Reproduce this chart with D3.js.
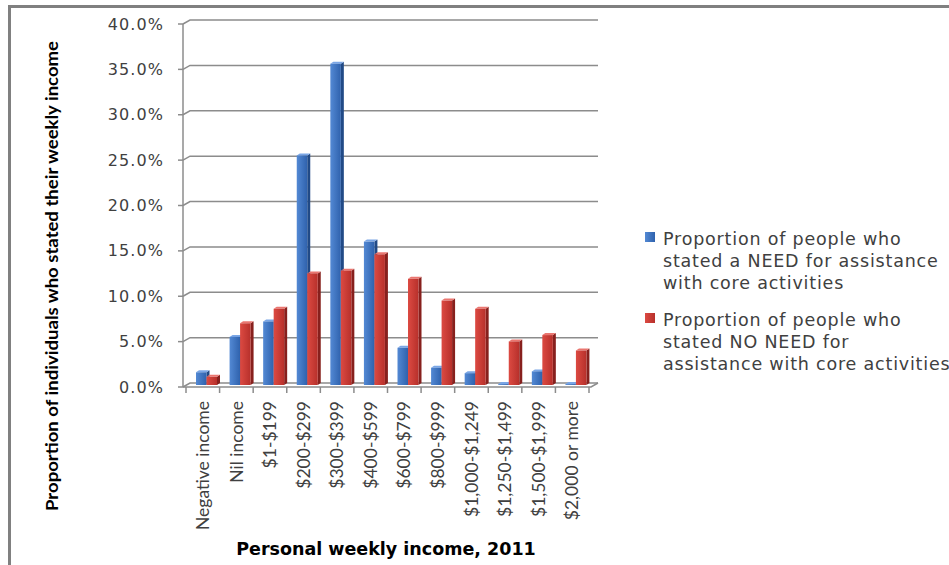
<!DOCTYPE html>
<html>
<head>
<meta charset="utf-8">
<script src="https://cdn.jsdelivr.net/npm/d3@7"></script>
<style>
  body { margin: 0; background: #fff; }
  svg { display: block; }
  .tick-label { font-family: "DejaVu Sans", Verdana, sans-serif; font-size: 16px; fill: #404040; letter-spacing: 1.1px; }
  .cat-label { font-family: Lato, "Open Sans", sans-serif; font-size: 17.5px; fill: #404040; }
  .axis-title { font-family: Lato, "Open Sans", sans-serif; font-weight: bold; fill: #000; }
  .legend-text { font-family: "DejaVu Sans", Verdana, sans-serif; font-size: 17.5px; fill: #404040; letter-spacing: 0.8px; }
</style>
</head>
<body>
<svg id="chart" width="949" height="565"></svg>
<script>
(function (d3) {
  'use strict';

  const categories = ['Negative income', 'Nil income', '$1-$199', '$200-$299', '$300-$399',
    '$400-$599', '$600-$799', '$800-$999', '$1,000-$1,249', '$1,250-$1,499',
    '$1,500-$1,999', '$2,000 or more'];
  const needValues = [1.4, 5.3, 7.0, 25.3, 35.4, 15.8, 4.1, 1.9, 1.3, 0.1, 1.5, 0.1];
  const noNeedValues = [0.9, 6.8, 8.4, 12.3, 12.6, 14.4, 11.7, 9.3, 8.4, 4.8, 5.5, 3.8];
  const yTicks = [0, 5, 10, 15, 20, 25, 30, 35, 40];
  const seriesNames = ['need', 'noNeed'];
  const legendLines = [
    ['Proportion of people who', 'stated a NEED for assistance', 'with core activities'],
    ['Proportion of people who', 'stated NO NEED for', 'assistance with core activities']
  ];

  const svg = d3.select('#chart');
  const width = +svg.attr('width');
  const height = +svg.attr('height');

  // outer frame (only top and left edges visible)
  svg.append('line').attr('x1', 8).attr('x2', width).attr('y1', 6.5).attr('y2', 6.5)
    .attr('stroke', '#808080').attr('stroke-width', 3);
  svg.append('line').attr('x1', 9.5).attr('x2', 9.5).attr('y1', 5).attr('y2', height)
    .attr('stroke', '#808080').attr('stroke-width', 3);

  // 3D offset of the back wall
  const depth = { dx: 7, dy: -4 };
  const plot = { left: 183, right: 591, top: 24, bottom: 387 };

  const yScale = d3.scaleLinear().domain([0, 40]).range([plot.bottom, plot.top]);
  const yBack = v => yScale(v) + depth.dy;

  const xScale = d3.scaleBand().domain(categories).range([186, 589]).padding(0);
  const xSeries = d3.scaleBand().domain(seriesNames)
    .range([10, 31]).padding(0);

  const g = svg.append('g');

  // back wall gridlines with slanted connectors
  g.append('g').selectAll('path').data(yTicks).enter().append('path')
    .attr('d', t => `M${plot.left},${yScale(t)}L${plot.left + depth.dx},${yBack(t)}L${plot.right + depth.dx},${yBack(t)}`)
    .attr('fill', 'none')
    .attr('stroke', '#8c8c8c')
    .attr('stroke-width', 1.5);

  // floor
  g.append('path')
    .attr('d', `M${plot.left},${plot.bottom}L${plot.right},${plot.bottom}L${plot.right + depth.dx},${yBack(0)}`)
    .attr('fill', 'none').attr('stroke', '#8c8c8c').attr('stroke-width', 1.5);

  // y axis line and ticks
  g.append('line').attr('x1', plot.left).attr('x2', plot.left)
    .attr('y1', yScale(40)).attr('y2', yScale(0))
    .attr('stroke', '#8c8c8c').attr('stroke-width', 1.5);
  g.append('g').selectAll('line').data(yTicks).enter().append('line')
    .attr('x1', plot.left - 5).attr('x2', plot.left)
    .attr('y1', t => yScale(t)).attr('y2', t => yScale(t))
    .attr('stroke', '#8c8c8c').attr('stroke-width', 1.5);
  g.append('g').selectAll('text').data(yTicks).enter().append('text')
    .attr('class', 'tick-label')
    .attr('x', 164).attr('y', t => yScale(t))
    .attr('dy', '0.35em')
    .attr('text-anchor', 'end')
    .text(t => d3.format('.1f')(t) + '%');

  // x axis ticks at category boundaries
  const boundaries = categories.map(c => xScale(c)).concat([xScale.range()[1]]);
  g.append('g').selectAll('line').data(boundaries).enter().append('line')
    .attr('x1', d => d).attr('x2', d => d)
    .attr('y1', plot.bottom).attr('y2', plot.bottom + 6)
    .attr('stroke', '#8c8c8c').attr('stroke-width', 1.5);

  // bars
  const colors = {
    need: { light: '#5389d4', dark: '#2f62ad', side: '#214a86', top: '#7aa6e6' },
    noNeed: { light: '#dc4a42', dark: '#b7302b', side: '#87201d', top: '#ea7670' }
  };
  const defs = svg.append('defs');
  seriesNames.forEach(s => {
    const grad = defs.append('linearGradient').attr('id', 'grad-' + s)
      .attr('x1', 0).attr('x2', 1).attr('y1', 0).attr('y2', 0);
    grad.append('stop').attr('offset', '0%').attr('stop-color', colors[s].light);
    grad.append('stop').attr('offset', '100%').attr('stop-color', colors[s].dark);
  });

  const barDepth = { dx: 3, dy: -2 };
  const yBar = v => yBack(v) + 2;
  const baseY = yBar(0);
  const barData = [];
  categories.forEach((c, i) => {
    barData.push({ cat: c, series: 'need', value: needValues[i] });
    barData.push({ cat: c, series: 'noNeed', value: noNeedValues[i] });
  });

  const bars = g.append('g').selectAll('g').data(barData).enter().append('g')
    .attr('transform', d => `translate(${xScale(d.cat) + xSeries(d.series)},0)`);
  const bw = xSeries.bandwidth();

  bars.append('path')
    .attr('d', d => {
      const y = yBar(d.value);
      return `M${bw},${y}L${bw + barDepth.dx},${y + barDepth.dy}L${bw + barDepth.dx},${baseY + barDepth.dy}L${bw},${baseY}Z`;
    })
    .attr('fill', d => colors[d.series].side);
  bars.append('path')
    .attr('d', d => {
      const y = yBar(d.value);
      return `M0,${y}L${barDepth.dx},${y + barDepth.dy}L${bw + barDepth.dx},${y + barDepth.dy}L${bw},${y}Z`;
    })
    .attr('fill', d => colors[d.series].top);
  bars.append('rect')
    .attr('x', 0).attr('width', bw)
    .attr('y', d => yBar(d.value))
    .attr('height', d => baseY - yBar(d.value))
    .attr('fill', d => `url(#grad-${d.series})`);

  // category labels
  g.append('g').selectAll('text').data(categories).enter().append('text')
    .attr('class', 'cat-label')
    .attr('transform', c => `translate(${xScale(c) + xScale.bandwidth() / 2},401) rotate(-90)`)
    .attr('dy', '0.35em')
    .attr('text-anchor', 'end')
    .text(c => c);

  // axis titles
  svg.append('text')
    .attr('class', 'axis-title')
    .attr('transform', 'translate(52,276) rotate(-90)')
    .attr('dy', '0.35em')
    .attr('text-anchor', 'middle')
    .attr('textLength', 470)
    .attr('lengthAdjust', 'spacingAndGlyphs')
    .style('font-size', '17px')
    .text('Proportion of individuals who stated their weekly income');

  svg.append('text')
    .attr('class', 'axis-title')
    .attr('x', 386).attr('y', 555)
    .attr('text-anchor', 'middle')
    .style('font-family', '"DejaVu Sans", Verdana, sans-serif')
    .style('font-size', '17.5px')
    .text('Personal weekly income, 2011');

  // legend
  const legend = svg.append('g');
  const legendTops = [237, 318];
  seriesNames.forEach((s, i) => {
    legend.append('rect')
      .attr('x', 645).attr('y', legendTops[i] - 5)
      .attr('width', 10).attr('height', 10)
      .attr('fill', `url(#grad-${s})`);
    legend.append('g').selectAll('text').data(legendLines[i]).enter().append('text')
      .attr('class', 'legend-text')
      .attr('x', 663)
      .attr('y', (l, j) => legendTops[i] + 2 + j * 22)
      .attr('dy', '0.35em')
      .text(l => l);
  });

}(d3));
</script>
</body>
</html>
